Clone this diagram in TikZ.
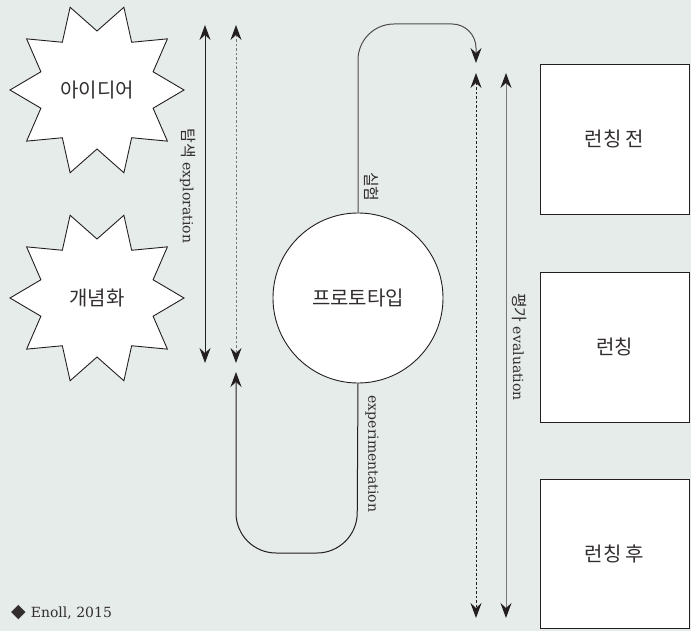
\documentclass[tikz,border=0pt]{standalone}
\usepackage{fontspec}
\setmainfont{DejaVu Serif}
\newfontfamily\kr{Noto Sans CJK KR}
\newfontfamily\dv{DejaVu Sans}
\usetikzlibrary{arrows.meta}
\definecolor{bg}{RGB}{230,236,234}
\definecolor{ink}{RGB}{35,31,32}
\definecolor{gline}{RGB}{125,120,120}
\definecolor{txt}{RGB}{50,46,46}
\begin{document}
\begin{tikzpicture}[x=1pt,y=-1pt,
  >={Stealth[length=15pt,width=11pt,inset=5pt,color=ink]},
  outl/.style={draw=ink, line width=0.9pt, fill=white},
  ktext/.style={font=\kr\fontsize{20}{24}\selectfont, text=txt},
  vlab/.style={font=\fontsize{14}{16}\selectfont, text=txt, rotate=-90, inner sep=0pt},
  klab/.style={font=\kr\fontsize{16}{18}\selectfont},
  conn/.style={line width=1pt},
  dotline/.style={line width=1pt, dash pattern=on 2.5pt off 2pt}]
\fill[bg] (0,0) rectangle (691,631);
\useasboundingbox (0,0) rectangle (691,631);

% stars
\draw[outl, shift={(97,90)}] (0:87) -- (18:59)
  \foreach \k in {1,...,9}{ -- ({\k*36}:87) -- ({\k*36+18}:59) } -- cycle;
\node[ktext] (idea) at (97,90) {아이디어};
\draw[outl, shift={(97,298)}] (0:87) -- (18:59)
  \foreach \k in {1,...,9}{ -- ({\k*36}:87) -- ({\k*36+18}:59) } -- cycle;
\node[ktext] (concept) at (97,298) {개념화};

% prototype circle
\node[outl, circle, minimum size=170pt, inner sep=0pt, ktext] (proto) at (358,298) {프로토타입};

% boxes
\node[outl, minimum width=149pt, minimum height=150pt, inner sep=0pt, ktext] (b1) at (614.5,139) {런칭 전};
\node[outl, minimum width=149pt, minimum height=150pt, inner sep=0pt, ktext] (b2) at (614.5,347) {런칭};
\node[outl, minimum width=149pt, minimum height=149pt, inner sep=0pt, ktext] (b3) at (614.5,553.5) {런칭 후};

% exploration arrows
\coordinate (e1t) at (205,25); \coordinate (e1b) at (205,363);
\coordinate (e2t) at (236,25); \coordinate (e2b) at (236,363);
\draw[conn, ink, <->] (e1t) -- (e1b);
\draw[dotline, gline, <->] (e2t) -- (e2b);

% experimentation loop
\coordinate (xb) at (357,553); \coordinate (xc) at (236,553); \coordinate (xt) at (236,372);
\draw[conn, ink, ->, rounded corners=40pt] (proto.south) -- (xb) -- (xc) -- (xt);

% top loop
\coordinate (ta) at (358,24); \coordinate (tb) at (476,24); \coordinate (tt) at (476,63);
\draw[conn, ink!80, ->] (proto.north) [rounded corners=36pt] -- (ta) [rounded corners=24pt] -- (tb) -- (tt);

% evaluation arrows
\coordinate (v1t) at (476,73); \coordinate (v1b) at (476,618);
\coordinate (v2t) at (506,73); \coordinate (v2b) at (506,618);
\draw[dotline, ink, <->] (v1t) -- (v1b);
\draw[conn, gline, <->] (v2t) -- (v2b);

% labels
\node[vlab] (lexplo) at (188,186) {{\kr\fontsize{16}{18}\selectfont 탐색} exploration};
\node[vlab] (lexper) at (372,187) {{\kr\fontsize{16}{18}\selectfont 실험}};
\node[vlab] (lexpm) at (372,454) {experimentation};
\node[vlab] (leval) at (519,347) {{\kr\fontsize{16}{18}\selectfont 평가} evaluation};

% source
\node[anchor=west, font=\fontsize{14}{16}\selectfont, text=txt, inner sep=0pt] (src) at (11,613) {{\dv\fontsize{19}{20}\selectfont ◆}\hspace{5pt}Enoll, 2015};
\end{tikzpicture}
\end{document}
